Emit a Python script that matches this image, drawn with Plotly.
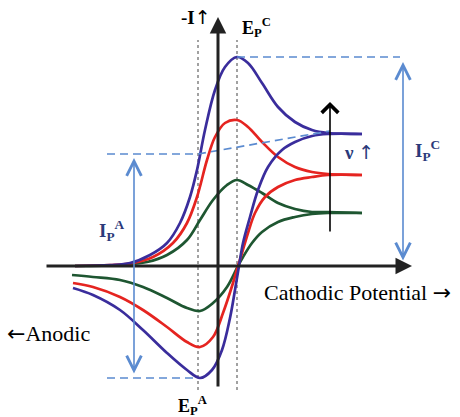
import plotly.graph_objects as go

# Potential (E, arbitrary units, 0 at vertical axis) and current (I, arbitrary units, 0 at baseline)
# Forward (cathodic) and reverse sweeps for three scan rates: slow (green), medium (red), fast (blue)
E_fwd_blue = [-143, -108, -88, -68, -51, -38, -28, -21, -13, -3, 7, 19, 30, 44, 60, 77, 94, 110, 144]
I_fwd_blue = [0, 1, 3, 11, 23, 43, 69, 96, 136, 176, 199, 209, 203, 183, 159, 144, 136, 133, 132]
E_rev_blue = [144, 110, 94, 77, 64, 50, 40, 32, 25, 21, 17, 12, 4, -6, -18, -31, -51, -75, -98, -125, -145]
I_rev_blue = [132, 132, 130, 124, 116, 99, 76, 49, 23, 0, -24, -52, -84, -104, -112, -104, -87, -64, -44, -29, -22]

E_fwd_red = [-143, -108, -85, -65, -45, -31, -21, -11, -3, 7, 19, 30, 44, 60, 77, 94, 110, 144]
I_fwd_red = [0, 1, 3, 9, 23, 43, 69, 106, 129, 143, 146, 139, 124, 109, 99, 94, 92, 91]
E_rev_red = [144, 110, 94, 77, 60, 47, 37, 30, 24, 20, 15, 5, -5, -18, -31, -51, -75, -98, -125, -145]
I_rev_red = [91, 91, 89, 86, 79, 69, 53, 33, 13, 0, -17, -47, -71, -81, -76, -61, -44, -31, -21, -17]

E_fwd_green = [-143, -98, -71, -51, -31, -18, -5, 9, 19, 30, 44, 60, 77, 94, 110, 144]
I_fwd_green = [0, 1, 4, 11, 26, 46, 66, 81, 86, 81, 73, 63, 57, 54, 54, 53]
E_rev_green = [144, 110, 94, 77, 60, 44, 34, 25, 20, 9, -5, -18, -31, -51, -75, -98, -125, -146]
I_rev_green = [53, 53, 52, 49, 44, 34, 23, 9, 0, -21, -37, -45, -42, -32, -21, -14, -11, -9]

# Peak markers
E_peak_anodic = -20
E_peak_cathodic = 19
I_peak_cathodic = 209
I_peak_anodic = -112
I_baseline_anodic = 112
I_plateau_fast = 135

BLUE = "#3a2d9c"
RED = "#e52420"
GREEN = "#1e5631"
DASH = "#5b8bd0"
NAVY = "#2b3a7a"
SERIF = "Liberation Serif, Times New Roman, serif"
DASHPAT = "8px,5px"

fig = go.Figure()

def curve(E, I, color):
    fig.add_trace(go.Scatter(x=E, y=I, mode="lines",
                             line=dict(color=color, width=2.7, shape="spline", smoothing=1.0),
                             hoverinfo="skip", showlegend=False))

for E, I, c in [(E_fwd_green, I_fwd_green, GREEN), (E_rev_green, I_rev_green, GREEN),
                (E_fwd_red, I_fwd_red, RED), (E_rev_red, I_rev_red, RED),
                (E_fwd_blue, I_fwd_blue, BLUE), (E_rev_blue, I_rev_blue, BLUE)]:
    curve(E, I, c)

shapes = []
# dotted peak potential lines
for e in [E_peak_anodic, E_peak_cathodic]:
    shapes.append(dict(type="line", xref="x", yref="y", x0=e, x1=e, y0=-124, y1=226,
                       line=dict(color="#8a8a8a", width=1.6, dash="dot"), layer="below"))
# dashed guide lines
shapes.append(dict(type="line", xref="x", yref="y", x0=E_peak_cathodic, x1=182,
                   y0=I_peak_cathodic, y1=I_peak_cathodic, line=dict(color=DASH, width=1.7, dash=DASHPAT)))
shapes.append(dict(type="line", xref="x", yref="y", x0=-111, x1=E_peak_anodic,
                   y0=I_baseline_anodic, y1=I_baseline_anodic, line=dict(color=DASH, width=1.7, dash=DASHPAT)))
shapes.append(dict(type="line", xref="x", yref="y", x0=E_peak_anodic, x1=112,
                   y0=I_baseline_anodic, y1=I_plateau_fast, line=dict(color=DASH, width=1.7, dash=DASHPAT)))
shapes.append(dict(type="line", xref="x", yref="y", x0=-111, x1=E_peak_anodic,
                   y0=I_peak_anodic, y1=I_peak_anodic, line=dict(color=DASH, width=1.7, dash=DASHPAT)))

ann = []
# axes with arrows
ann.append(dict(x=194, y=0, ax=-173, ay=0, xref="x", yref="y", axref="x", ayref="y", text="",
                showarrow=True, arrowhead=2, arrowsize=1.1, arrowwidth=3, arrowcolor="#222"))
ann.append(dict(x=0, y=249, ax=0, ay=-122, xref="x", yref="y", axref="x", ayref="y", text="",
                showarrow=True, arrowhead=2, arrowsize=1.1, arrowwidth=3, arrowcolor="#222"))
# double arrows for peak currents
ann.append(dict(x=185, y=204, ax=185, ay=4, xref="x", yref="y", axref="x", ayref="y", text="",
                showarrow=True, arrowhead=5, arrowsize=1.8, arrowwidth=1.6, arrowcolor=DASH,
                arrowside="end+start", startarrowhead=5, startarrowsize=1.8))
ann.append(dict(x=-84, y=108, ax=-84, ay=-109, xref="x", yref="y", axref="x", ayref="y", text="",
                showarrow=True, arrowhead=5, arrowsize=1.8, arrowwidth=1.6, arrowcolor=DASH,
                arrowside="end+start", startarrowhead=5, startarrowsize=1.8))
# scan-rate arrow
ann.append(dict(x=112, y=164, ax=112, ay=33, xref="x", yref="y", axref="x", ayref="y", text="",
                showarrow=True, arrowhead=4, arrowsize=2.0, arrowwidth=1.6, arrowcolor="#000"))

def label(text, x, y, size, color="#000", xanchor="center"):
    ann.append(dict(x=x, y=y, xref="x", yref="y", text=text, showarrow=False,
                    xanchor=xanchor, yanchor="middle",
                    font=dict(family=SERIF, size=size, color=color)))

ARROW = '<span style="font-family:DejaVu Sans">%s</span>'

label("<b>-I</b>" + ARROW % "↑", -22, 249, 19)
label("<b>E<sub>P</sub><sup>C</sup></b>", 22, 239, 18, xanchor="left")
label("<b>E<sub>P</sub><sup>A</sup></b>", -26, -139, 18)
label("<b>I<sub>P</sub><sup>C</sup></b>", 195, 116, 19, color=NAVY, xanchor="left")
label("<b>I<sub>P</sub><sup>A</sup></b>", -121, 36, 19, color=NAVY, xanchor="left")
label("<b>ν</b> " + ARROW % "↑", 124, 114, 19, color=NAVY, xanchor="left")
label("Cathodic Potential " + ARROW % "→", 44, -26, 22, xanchor="left")
label(ARROW % "←" + "Anodic", -213, -67, 22, xanchor="left")

fig.update_layout(
    width=460, height=417, margin=dict(l=0, r=0, t=0, b=0),
    paper_bgcolor="white", plot_bgcolor="white",
    xaxis=dict(range=[-218, 242], visible=False, fixedrange=True),
    yaxis=dict(range=[-151, 266], visible=False, fixedrange=True),
    shapes=shapes, annotations=ann, showlegend=False,
)

fig.write_html("out.html")
